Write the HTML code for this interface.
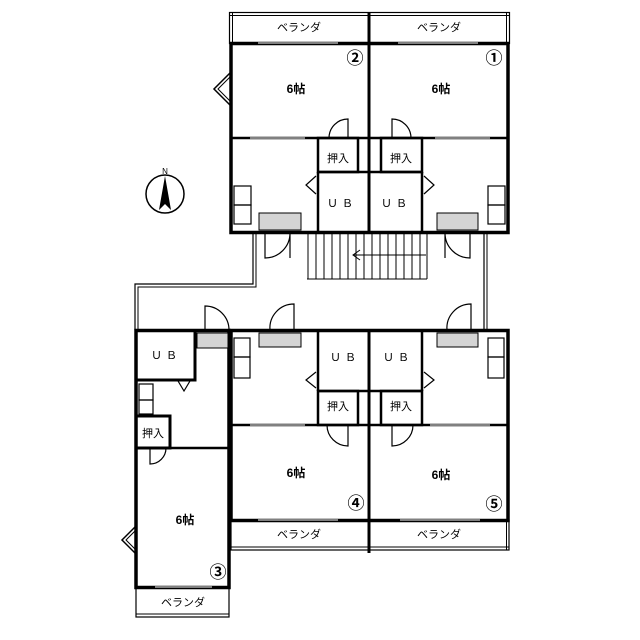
<!DOCTYPE html>
<html><head><meta charset="utf-8"><style>
html,body{margin:0;padding:0;background:#fff;width:640px;height:640px;overflow:hidden}
svg text{font-family:"Liberation Sans","Noto Sans CJK JP",sans-serif;fill:#000}
</style></head><body>
<svg width="640" height="640" viewBox="0 0 640 640" xmlns="http://www.w3.org/2000/svg">
<g fill="none" stroke="#000">
<rect x="229.5" y="12.5" width="280" height="31" stroke-width="1.2"/>
<line x1="229" y1="15.5" x2="510" y2="15.5" stroke-width="1"/>
<line x1="232.5" y1="13" x2="232.5" y2="43" stroke-width="1"/>
<line x1="506.5" y1="13" x2="506.5" y2="43" stroke-width="1"/>
<line x1="369" y1="12" x2="369" y2="44" stroke-width="3"/>
<rect x="231" y="43.5" width="277" height="189" stroke-width="3.5"/>
<line x1="369" y1="43" x2="369" y2="232" stroke-width="3"/>
<line x1="231" y1="138" x2="508" y2="138" stroke-width="2.5"/>
<rect x="318" y="138" width="40" height="34" stroke-width="2.5"/>
<rect x="381" y="138" width="41" height="34" stroke-width="2.5"/>
<line x1="318" y1="172" x2="318" y2="232" stroke-width="2.5"/>
<line x1="422" y1="172" x2="422" y2="232" stroke-width="2.5"/>
<line x1="318" y1="172" x2="422" y2="172" stroke-width="2.5"/>
<line x1="258" y1="43" x2="338" y2="43" stroke="#fff" stroke-width="1"/>
<line x1="398" y1="43" x2="478" y2="43" stroke="#fff" stroke-width="1"/>
<line x1="250" y1="138" x2="305" y2="138" stroke="#fff" stroke-width="1"/>
<line x1="435" y1="138" x2="490" y2="138" stroke="#fff" stroke-width="1"/>
<polyline points="230,73 214,89 230,105" stroke-width="1.5"/>
<polyline points="230,77 218,89 230,101" stroke-width="1"/>
<path d="M348,138 V119 A19,19 0 0 0 329,138" stroke-width="1.2"/>
<path d="M392,138 V119 A19,19 0 0 1 411,138" stroke-width="1.2"/>
<path d="M265,233 V258 A25,25 0 0 0 290,233 M290,233 V258" stroke-width="1.2"/>
<path d="M470,233 V258 A25,25 0 0 1 445,233 M445,233 V258" stroke-width="1.2"/>
<polyline points="316,176 306,185 316,194" stroke-width="1.2"/>
<polyline points="424,176 434,185 424,194" stroke-width="1.2"/>
<rect x="234" y="186" width="17" height="19" stroke-width="1.2"/>
<rect x="234" y="205" width="17" height="19" stroke-width="1.2"/>
<rect x="488" y="186" width="17" height="19" stroke-width="1.2"/>
<rect x="488" y="205" width="17" height="19" stroke-width="1.2"/>
<g stroke-width="1">
<line x1="307" y1="279" x2="427" y2="279"/>
<path d="M308,233V279M316,233V279M324,233V279M332,233V279M340,233V279M348,233V279M356,233V279M364,233V279M372,233V279M380,233V279M388,233V279M396,233V279M404,233V279M412,233V279M420,233V279M427,233V279"/>
<line x1="353" y1="255" x2="426" y2="255"/>
<polyline points="360,250 353,255 360,260"/>
</g>
<path d="M253,233 V284 H135 V330" stroke-width="1.2"/>
<path d="M256,233 V287 H138 V330" stroke-width="1"/>
<line x1="484" y1="233" x2="484" y2="329" stroke-width="1.2"/>
<line x1="487" y1="233" x2="487" y2="329" stroke-width="1"/>
<circle cx="165" cy="194" r="19" stroke-width="1.5"/>
<rect x="136" y="330.5" width="93" height="257" stroke-width="3.5"/>
<rect x="136" y="587" width="93" height="30" stroke-width="1.2"/>
<line x1="136" y1="614" x2="229" y2="614" stroke-width="1"/>
<path d="M136,380 H195 V330" stroke-width="3"/>
<rect x="136" y="416" width="34" height="32" stroke-width="3"/>
<line x1="136" y1="448" x2="229" y2="448" stroke-width="2.5"/>
<rect x="139" y="384" width="14" height="16" stroke-width="1.2"/>
<rect x="139" y="400" width="14" height="14" stroke-width="1.2"/>
<polyline points="178,381 184,391 190,381" stroke-width="1.2"/>
<path d="M150,448 V464 A16,16 0 0 0 166,448" stroke-width="1.2"/>
<path d="M205,330 V306 A24,24 0 0 1 229,330" stroke-width="1.2"/>
<polyline points="135,527 122,540 135,553" stroke-width="1.5"/>
<polyline points="135,531 126,540 135,549" stroke-width="1"/>
<rect x="231" y="330.5" width="277" height="190" stroke-width="3.5"/>
<rect x="231" y="520" width="278" height="30" stroke-width="1.2"/>
<line x1="231" y1="547" x2="509" y2="547" stroke-width="1"/>
<line x1="506.5" y1="520" x2="506.5" y2="550" stroke-width="1"/>
<line x1="369" y1="330" x2="369" y2="553" stroke-width="3"/>
<line x1="231" y1="425" x2="508" y2="425" stroke-width="2.5"/>
<rect x="318" y="391" width="40" height="34" stroke-width="2.5"/>
<rect x="381" y="391" width="41" height="34" stroke-width="2.5"/>
<line x1="318" y1="330" x2="318" y2="391" stroke-width="2.5"/>
<line x1="422" y1="330" x2="422" y2="391" stroke-width="2.5"/>
<line x1="318" y1="391" x2="422" y2="391" stroke-width="2.5"/>
<line x1="258" y1="520" x2="338" y2="520" stroke="#fff" stroke-width="1"/>
<line x1="400" y1="520" x2="480" y2="520" stroke="#fff" stroke-width="1"/>
<line x1="155" y1="587" x2="212" y2="587" stroke="#fff" stroke-width="1"/>
<line x1="250" y1="425" x2="305" y2="425" stroke="#fff" stroke-width="1"/>
<line x1="430" y1="425" x2="490" y2="425" stroke="#fff" stroke-width="1"/>
<polyline points="316,372 306,380 316,388" stroke-width="1.2"/>
<polyline points="424,372 434,380 424,388" stroke-width="1.2"/>
<path d="M348,425 V446 A21,21 0 0 1 327,425" stroke-width="1.2"/>
<path d="M392,425 V446 A21,21 0 0 0 413,425" stroke-width="1.2"/>
<path d="M294,330 V304 A24,24 0 0 0 270,330" stroke-width="1.2"/>
<path d="M471,330 V304 A24,24 0 0 0 447,330" stroke-width="1.2"/>
<rect x="234" y="338" width="16" height="19" stroke-width="1.2"/>
<rect x="234" y="357" width="16" height="21" stroke-width="1.2"/>
<rect x="488" y="338" width="16" height="19" stroke-width="1.2"/>
<rect x="488" y="357" width="16" height="21" stroke-width="1.2"/>
</g>
<polygon points="165,176 159,210 165,204 171,210" fill="#000"/>
<text x="165" y="174" font-size="8" text-anchor="middle">N</text>
<g fill="#d4d4d4" stroke="#000" stroke-width="1">
<rect x="259" y="213" width="42" height="17"/>
<rect x="437" y="213" width="41" height="17"/>
<rect x="197" y="333" width="31" height="15"/>
<rect x="259" y="333" width="42" height="14"/>
<rect x="437" y="333" width="41" height="14"/>
</g>
<g font-size="11" text-anchor="middle">
<text x="299" y="31">ベランダ</text>
<text x="439" y="31">ベランダ</text>
<text x="299" y="538">ベランダ</text>
<text x="439" y="538">ベランダ</text>
<text x="183" y="606">ベランダ</text>
</g>
<g font-size="12" font-weight="bold" text-anchor="middle" font-family="Liberation Serif,Noto Serif CJK SC,serif">
<text x="296" y="93">6帖</text>
<text x="441" y="93">6帖</text>
<text x="296" y="477">6帖</text>
<text x="441" y="479">6帖</text>
<text x="185" y="524">6帖</text>
</g>
<g font-size="17" text-anchor="middle" font-weight="bold">
<text x="355" y="64">②</text>
<text x="494" y="64">①</text>
<text x="356" y="509">④</text>
<text x="494" y="510">⑤</text>
<text x="218" y="578">③</text>
</g>
<g font-size="11" text-anchor="middle">
<text x="338" y="162">押入</text>
<text x="401" y="162">押入</text>
<text x="338" y="410">押入</text>
<text x="401" y="410">押入</text>
<text x="153" y="437">押入</text>
<text x="342" y="207" letter-spacing="4">ＵＢ</text>
<text x="396" y="207" letter-spacing="4">ＵＢ</text>
<text x="345" y="361" letter-spacing="4">ＵＢ</text>
<text x="398" y="361" letter-spacing="4">ＵＢ</text>
<text x="166" y="359" letter-spacing="4">ＵＢ</text>
</g>
</svg>
</body></html>
